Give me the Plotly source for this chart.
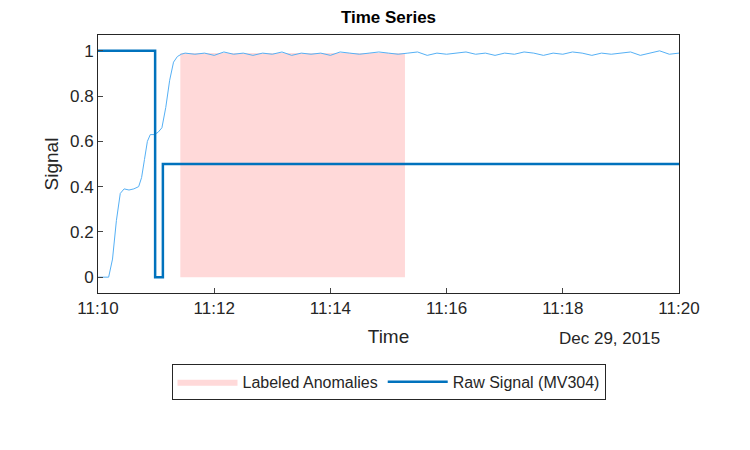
import plotly.graph_objects as go

# Raw signal (MV304) step points
raw_t = ["2015-12-29 11:10:00", "2015-12-29 11:10:59", "2015-12-29 11:10:59", "2015-12-29 11:11:01",
         "2015-12-29 11:11:07", "2015-12-29 11:11:07", "2015-12-29 11:20:00"]
raw_v = [1, 1, 0.0, 0.0, 0.0, 0.5, 0.5]

# Smoothed / predicted signal (light blue)
sm_t = ["11:10:00","11:10:11","11:10:15","11:10:19","11:10:23","11:10:27","11:10:32","11:10:37","11:10:42",
        "11:10:45","11:10:48","11:10:51","11:10:54","11:10:58","11:11:02","11:11:06","11:11:10","11:11:14",
        "11:11:18","11:11:22","11:11:26","11:11:30","11:11:40","11:11:50","11:12:00","11:12:10","11:12:20",
        "11:12:30","11:12:40","11:12:50","11:13:00","11:13:10","11:13:20","11:13:30","11:13:40","11:13:50",
        "11:14:00","11:14:10","11:14:20","11:14:30","11:14:40","11:14:50","11:15:00","11:15:10","11:15:20",
        "11:15:30","11:15:40","11:15:50","11:16:00","11:16:10","11:16:20","11:16:30","11:16:40","11:16:50",
        "11:17:00","11:17:10","11:17:20","11:17:30","11:17:40","11:17:50","11:18:00","11:18:10","11:18:20",
        "11:18:30","11:18:40","11:18:50","11:19:00","11:19:10","11:19:20","11:19:30","11:19:40","11:19:50",
        "11:20:00"]
sm_v = [0.0, 0.0, 0.08, 0.25, 0.37, 0.39, 0.385, 0.39, 0.40,
        0.44, 0.52, 0.60, 0.63, 0.63, 0.64, 0.66, 0.75, 0.87,
        0.95, 0.975, 0.985, 0.99, 0.985, 0.99, 0.98, 0.995, 0.985,
        0.99, 0.98, 0.99, 0.985, 0.995, 0.98, 0.99, 0.985, 0.99,
        0.98, 0.995, 0.99, 0.985, 0.99, 0.995, 0.99, 0.985, 0.99,
        0.995, 0.98, 0.99, 0.985, 0.99, 0.995, 0.985, 0.99, 0.98,
        0.99, 0.985, 0.995, 0.99, 0.98, 0.99, 0.985, 0.995, 0.99,
        0.98, 0.99, 0.985, 0.99, 0.995, 0.98, 0.99, 1.0, 0.985,
        0.99]
sm_t = ["2015-12-29 " + t for t in sm_t]

# Labeled anomaly interval
anom_start = "2015-12-29 11:11:25"
anom_end = "2015-12-29 11:15:17"
anom_low, anom_high = 0.0, 0.99

fig = go.Figure()
fig.add_trace(go.Scatter(
    x=[anom_start, anom_end, anom_end, anom_start, anom_start],
    y=[anom_low, anom_low, anom_high, anom_high, anom_low],
    fill="toself", fillcolor="#FFD9D9", line=dict(width=0, color="#FFD9D9"),
    mode="lines", name="Labeled Anomalies"))
fig.add_trace(go.Scatter(x=sm_t, y=sm_v, mode="lines", line=dict(color="#55B0F5", width=1),
                         showlegend=False))
fig.add_trace(go.Scatter(x=raw_t, y=raw_v, mode="lines", line=dict(color="#0072BD", width=2.5),
                         name="Raw Signal (MV304)"))

ticks = ["2015-12-29 11:%02d:00" % m for m in (10, 12, 14, 16, 18, 20)]
tf = dict(family="Liberation Sans, Arial", size=17, color="#262626")
fig.update_layout(
    width=750, height=450, plot_bgcolor="white", paper_bgcolor="white",
    margin=dict(l=90, r=79, t=27, b=165, autoexpand=False),
    font=dict(family="Liberation Sans, Arial", size=17, color="#262626"),
    title=dict(text="<b>Time Series</b>", x=0.5, xref="paper", y=0.993, yanchor="top",
               font=dict(size=17, color="black")),
    xaxis=dict(range=["2015-12-29 11:10:00", "2015-12-29 11:20:00"], tickvals=ticks,
               ticktext=["11:10", "11:12", "11:14", "11:16", "11:18", "11:20"], tickfont=tf,
               showline=True, mirror=True, linecolor="#262626", linewidth=1, ticks="inside",
               ticklen=5, showgrid=False, zeroline=False, automargin=False,
               title=dict(text="Time", standoff=12, font=dict(size=19))),
    yaxis=dict(range=[-0.07, 1.07], tickvals=[0, 0.2, 0.4, 0.6, 0.8, 1],
               ticktext=["0", "0.2", "0.4", "0.6", "0.8", "1"], tickfont=tf,
               showline=True, mirror=True, linecolor="#262626", linewidth=1, ticks="inside",
               ticklen=5, showgrid=False, zeroline=False, automargin=False,
               title=dict(text="Signal", standoff=6, font=dict(size=19))),
    legend=dict(orientation="h", x=0.5, xanchor="center", y=-0.275, yanchor="top",
                bordercolor="#262626", borderwidth=1, font=dict(size=16), tracegroupgap=0,
                itemwidth=60),
    showlegend=True,
)
fig.add_annotation(text="Dec 29, 2015", xref="paper", yref="paper", x=0.97, xanchor="right",
                   y=-0.13, yanchor="top", showarrow=False, font=tf)
fig.write_html("out.html")
